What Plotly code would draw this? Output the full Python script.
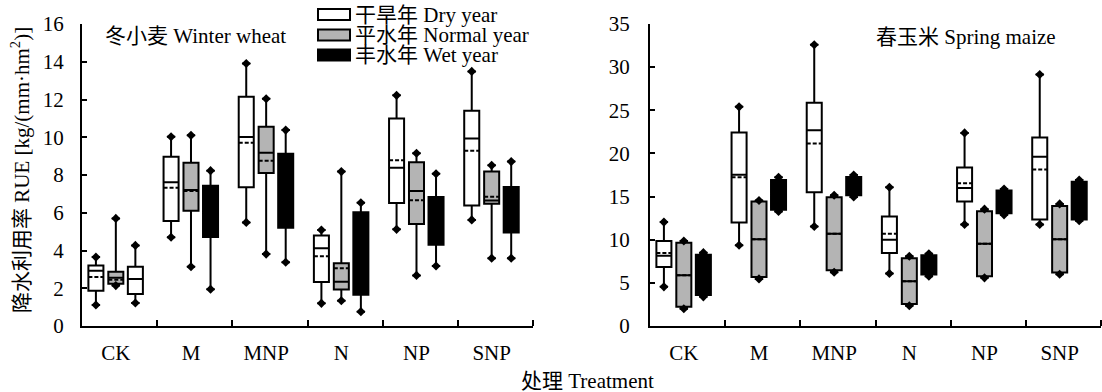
import plotly.graph_objects as go

W, H = 1102, 392

categories = ["CK", "M", "MNP", "N", "NP", "SNP"]
years = ["干旱年 Dry year", "平水年 Normal year", "丰水年 Wet year"]

# ---- Winter wheat (per year: dry, normal, wet; each over categories) ----
wheat_upper = [
    [3.65, 10.03, 13.91, 5.09, 12.22, 13.49],
    [5.70, 10.10, 12.04, 8.18, 9.15, 8.51],
    [4.27, 8.23, 10.38, 6.53, 8.07, 8.71],
]
wheat_q3 = [
    [3.20, 8.97, 12.15, 4.80, 11.00, 11.41],
    [2.88, 8.65, 10.56, 3.32, 8.67, 8.19],
    [3.14, 7.43, 9.13, 6.02, 6.83, 7.36],
]
wheat_median = [
    [2.93, 7.61, 10.01, 4.12, 8.39, 9.94],
    [2.55, 7.21, 9.18, 2.35, 7.15, 6.65],
    [2.49, 6.00, 7.00, 3.50, 5.50, 6.10],
]
wheat_mean = [
    [2.60, 7.33, 9.71, 3.69, 8.78, 9.29],
    [2.45, 7.15, 8.76, 3.06, 6.66, 6.85],
    [2.49, 6.00, 7.00, 3.50, 5.50, 6.10],
]
wheat_q1 = [
    [1.87, 5.56, 7.35, 2.33, 6.52, 6.39],
    [2.24, 6.11, 8.11, 1.94, 5.40, 6.48],
    [1.69, 4.72, 5.21, 1.66, 4.31, 4.96],
]
wheat_lower = [
    [1.11, 4.70, 5.49, 1.20, 5.12, 5.62],
    [2.14, 3.14, 3.81, 1.34, 2.68, 3.59],
    [1.22, 1.95, 3.38, 0.76, 3.18, 3.59],
]

# ---- Spring maize ----
maize_upper = [
    [12.04, 25.40, 32.60, 16.08, 22.38, 29.15],
    [9.85, 14.54, 15.15, 8.08, 13.54, 14.15],
    [8.50, 17.23, 17.50, 8.38, 15.88, 16.92],
]
maize_q3 = [
    [9.85, 22.42, 25.88, 12.69, 18.38, 21.85],
    [9.65, 14.42, 14.92, 7.85, 13.31, 13.92],
    [8.27, 16.92, 17.27, 8.19, 15.69, 16.73],
]
maize_median = [
    [8.15, 17.54, 22.69, 10.00, 16.00, 19.62],
    [5.88, 10.04, 10.69, 5.19, 9.54, 10.04],
    [6.00, 15.20, 16.20, 7.00, 14.40, 14.50],
]
maize_mean = [
    [8.46, 17.23, 21.15, 10.69, 16.54, 18.15],
    [5.88, 10.04, 10.69, 5.19, 9.54, 10.04],
    [6.00, 15.20, 16.20, 7.00, 14.40, 14.50],
]
maize_q1 = [
    [6.85, 12.00, 15.50, 8.46, 14.42, 12.35],
    [2.23, 5.69, 6.46, 2.54, 5.77, 6.19],
    [3.58, 13.46, 15.15, 5.96, 13.08, 12.35],
]
maize_lower = [
    [4.54, 9.35, 11.54, 6.08, 11.77, 11.77],
    [2.00, 5.46, 6.23, 2.35, 5.58, 6.00],
    [3.38, 13.27, 14.96, 5.77, 12.88, 12.19],
]

panel_titles = ["冬小麦 Winter wheat", "春玉米 Spring maize"]
y_title = "降水利用率 RUE [kg/(mm·hm<sup>2</sup>)]"
x_title = "处理 Treatment"

# ---- styles ----
FONT = "Liberation Serif, 'Noto Sans CJK SC', serif"
FS = 21
year_fill = ["white", "#b4b4b4", "black"]
# per-panel fill overrides: (panel, year, category) -> colour
fill_override = {(0, 2, 0): "white"}
group_offset = [-0.265, 0.0, 0.26]
cat_center = 0.45
box_w = 0.2

fig = go.Figure()

panels = [
    ("x", "y", wheat_upper, wheat_q3, wheat_median, wheat_mean, wheat_q1, wheat_lower),
    ("x2", "y2", maize_upper, maize_q3, maize_median, maize_mean, maize_q1, maize_lower),
]

for p, (xa, ya, up, q3, med, mn, q1, lo) in enumerate(panels):
    for k in range(3):
        for i, cat in enumerate(categories):
            xpos = i + cat_center + group_offset[k]
            fill = fill_override.get((p, k, i), year_fill[k])
            fig.add_trace(go.Box(
                x=[xpos], q1=[q1[k][i]], median=[med[k][i]], q3=[q3[k][i]],
                lowerfence=[lo[k][i]], upperfence=[up[k][i]], mean=[mn[k][i]],
                boxmean=True, width=box_w, whiskerwidth=0.55,
                fillcolor=fill, line=dict(color="black", width=2),
                xaxis=xa, yaxis=ya, showlegend=False, boxpoints=False,
            ))
            fig.add_trace(go.Scatter(
                x=[xpos, xpos], y=[lo[k][i], up[k][i]], mode="markers",
                marker=dict(symbol="diamond", size=7, color="black"),
                xaxis=xa, yaxis=ya, showlegend=False, hoverinfo="skip",
            ))

ydom = [(H - 326) / H, (H - 24) / H]
tickvals = [i + cat_center for i in range(len(categories))]
common_x = dict(
    range=[0, 6], tickmode="array", tickvals=tickvals, ticktext=categories,
    ticks="", showline=True, linecolor="black", linewidth=2, automargin=False,
    showgrid=False, zeroline=False, ticklabelstandoff=7,
    tickfont=dict(family=FONT, size=FS, color="black"),
    minor=dict(tickmode="array", tickvals=[1, 2, 3, 4, 5, 6], ticks="inside",
               ticklen=6, tickwidth=2, tickcolor="black"),
)
common_y = dict(
    domain=ydom, ticks="inside", ticklen=5, tickwidth=2, tickcolor="black",
    showline=True, linecolor="black", linewidth=2, showgrid=False, automargin=False,
    zeroline=False,
    tickfont=dict(family=FONT, size=FS, color="black"),
)

fig.update_layout(
    template="none",
    width=W, height=H, margin=dict(l=0, r=0, t=0, b=0, autoexpand=False),
    paper_bgcolor="white", plot_bgcolor="white", boxmode="overlay",
    showlegend=False,
    xaxis=dict(domain=[82 / W, 533 / W], anchor="y", **common_x),
    xaxis2=dict(domain=[650 / W, 1101 / W], anchor="y2", **common_x),
    yaxis=dict(range=[0, 16], dtick=2, tick0=0, anchor="x", ticklabelstandoff=12, **common_y),
    yaxis2=dict(range=[0, 35], dtick=5, tick0=0, anchor="x2", ticklabelstandoff=14, **common_y),
)

def px(x):
    return x / W

def py(y):
    return (H - y) / H

ann = []
ann.append(dict(text=panel_titles[0], x=px(195), y=py(36), xref="paper", yref="paper",
                showarrow=False, xanchor="center", yanchor="middle",
                font=dict(family=FONT, size=FS, color="black")))
ann.append(dict(text=panel_titles[1], x=px(966), y=py(37), xref="paper", yref="paper",
                showarrow=False, xanchor="center", yanchor="middle",
                font=dict(family=FONT, size=FS, color="black")))
ann.append(dict(text=y_title, x=px(20), y=py(170), xref="paper", yref="paper",
                showarrow=False, xanchor="center", yanchor="middle", textangle=-90,
                font=dict(family=FONT, size=FS, color="black")))
ann.append(dict(text=x_title, x=px(587), y=py(381), xref="paper", yref="paper",
                showarrow=False, xanchor="center", yanchor="middle",
                font=dict(family=FONT, size=FS, color="black")))

# manual legend
shapes = []
leg_rows = [14.5, 35, 55]
for k, yc in enumerate(leg_rows):
    shapes.append(dict(type="rect", xref="paper", yref="paper",
                       x0=px(318), x1=px(350), y0=py(yc - 5.5), y1=py(yc + 5.5),
                       fillcolor=year_fill[k], line=dict(color="black", width=2)))
    ann.append(dict(text=years[k], x=px(353), y=py(yc), xref="paper", yref="paper",
                    showarrow=False, xanchor="left", yanchor="middle",
                    font=dict(family=FONT, size=FS, color="black")))

fig.update_layout(annotations=ann, shapes=shapes)
fig.write_html("out.html",
               config={"displayModeBar": False, "staticPlot": True},
               post_script="document.body.style.margin='0';document.body.style.overflow='hidden';")
